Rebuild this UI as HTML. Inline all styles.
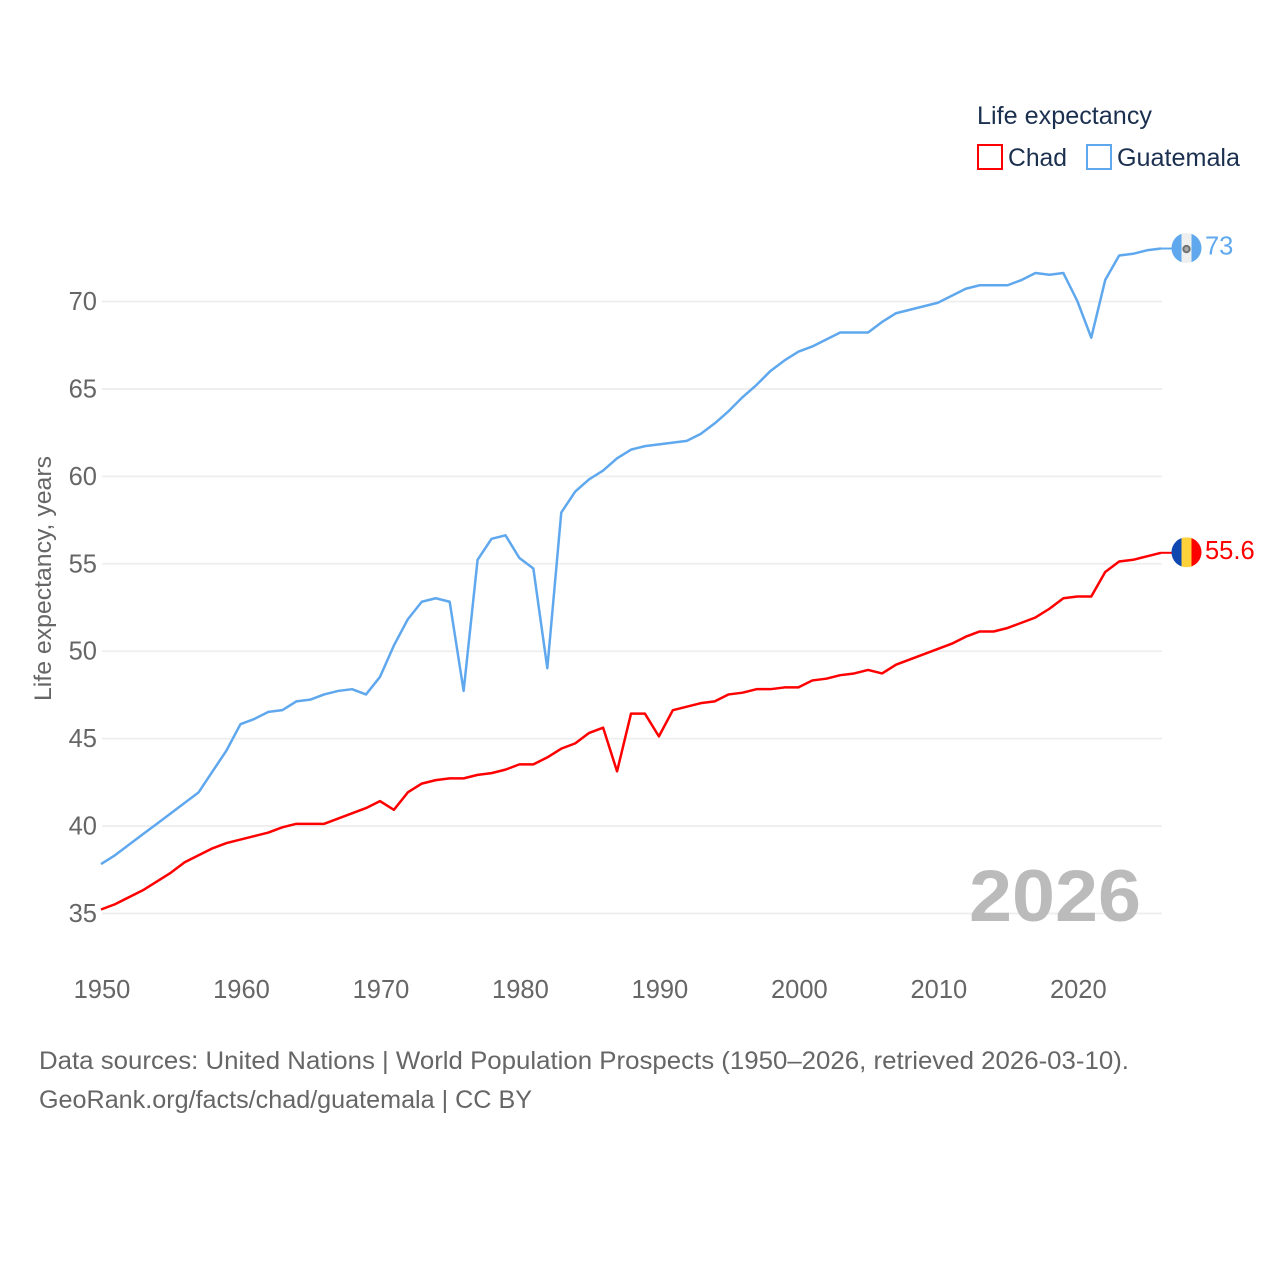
<!DOCTYPE html>
<html lang="en">
<head>
<meta charset="utf-8">
<title>Life expectancy: Chad and Guatemala</title>
<style>
html,body{margin:0;padding:0;background:#fff;}
svg{display:block;font-family:"Liberation Sans",Arial,sans-serif;}
</style>
</head>
<body>
<svg id="chart" xmlns="http://www.w3.org/2000/svg" width="1280" height="1280" viewBox="0 0 1280 1280">
  <defs>
    <clipPath id="clip-gt"><circle id="clip-gt-c" cx="1186.5" cy="248" r="15"/></clipPath>
    <clipPath id="clip-td"><circle id="clip-td-c" cx="1186.5" cy="552" r="15"/></clipPath>
  </defs>
  <rect width="1280" height="1280" fill="#fff"/>
  <g id="grid"></g>
  <g id="yticks"></g>
  <g id="xticks"></g>
  <text transform="translate(51,701) rotate(-90)" font-size="24" fill="#666" textLength="245" lengthAdjust="spacingAndGlyphs">Life expectancy, years</text>
  <text x="1141" y="921" text-anchor="end" font-size="73" font-weight="700" fill="#bbb" textLength="172" lengthAdjust="spacingAndGlyphs">2026</text>
  <g id="series"></g>
  <g id="flags"></g>
  <g>
    <text x="977" y="124" font-size="25" fill="#1b2f4f" textLength="175" lengthAdjust="spacingAndGlyphs">Life expectancy</text>
    <rect x="978" y="145" width="24" height="24" fill="#fff" stroke="#ff0000" stroke-width="2"/>
    <text x="1008" y="166" font-size="25" fill="#1b2f4f" textLength="59" lengthAdjust="spacingAndGlyphs">Chad</text>
    <rect x="1087" y="145" width="24" height="24" fill="#fff" stroke="#5fa8ee" stroke-width="2"/>
    <text x="1117" y="166" font-size="25" fill="#1b2f4f" textLength="123" lengthAdjust="spacingAndGlyphs">Guatemala</text>
  </g>
  <text x="39" y="1069" font-size="25" fill="#666" textLength="1090" lengthAdjust="spacingAndGlyphs">Data sources: United Nations | World Population Prospects (1950–2026, retrieved 2026-03-10).</text>
  <text x="39" y="1108" font-size="25" fill="#666" textLength="493" lengthAdjust="spacingAndGlyphs">GeoRank.org/facts/chad/guatemala | CC BY</text>
</svg>
<script>
const years = [1950,1951,1952,1953,1954,1955,1956,1957,1958,1959,1960,1961,1962,1963,1964,1965,1966,1967,1968,1969,1970,1971,1972,1973,1974,1975,1976,1977,1978,1979,1980,1981,1982,1983,1984,1985,1986,1987,1988,1989,1990,1991,1992,1993,1994,1995,1996,1997,1998,1999,2000,2001,2002,2003,2004,2005,2006,2007,2008,2009,2010,2011,2012,2013,2014,2015,2016,2017,2018,2019,2020,2021,2022,2023,2024,2025,2026];
const chadValues = [35.2,35.5,35.9,36.3,36.8,37.3,37.9,38.3,38.7,39.0,39.2,39.4,39.6,39.9,40.1,40.1,40.1,40.4,40.7,41.0,41.4,40.9,41.9,42.4,42.6,42.7,42.7,42.9,43.0,43.2,43.5,43.5,43.9,44.4,44.7,45.3,45.6,43.1,46.4,46.4,45.1,46.6,46.8,47.0,47.1,47.5,47.6,47.8,47.8,47.9,47.9,48.3,48.4,48.6,48.7,48.9,48.7,49.2,49.5,49.8,50.1,50.4,50.8,51.1,51.1,51.3,51.6,51.9,52.4,53.0,53.1,53.1,54.5,55.1,55.2,55.4,55.6];
const guatemalaValues = [37.8,38.3,38.9,39.5,40.1,40.7,41.3,41.9,43.1,44.3,45.8,46.1,46.5,46.6,47.1,47.2,47.5,47.7,47.8,47.5,48.5,50.3,51.8,52.8,53.0,52.8,47.7,55.2,56.4,56.6,55.3,54.7,49.0,57.9,59.1,59.8,60.3,61.0,61.5,61.7,61.8,61.9,62.0,62.4,63.0,63.7,64.5,65.2,66.0,66.6,67.1,67.4,67.8,68.2,68.2,68.2,68.8,69.3,69.5,69.7,69.9,70.3,70.7,70.9,70.9,70.9,71.2,71.6,71.5,71.6,70.0,67.9,71.2,72.6,72.7,72.9,73.0];
const yTickValues = [35,40,45,50,55,60,65,70];
const xTickValues = [1950,1960,1970,1980,1990,2000,2010,2020];

const NS = 'http://www.w3.org/2000/svg';
const X0 = 101, X1 = 1161, Y35 = 913, Y70 = 301;
function xScale(year){ return X0 + (year - 1950) * (X1 - X0) / 76; }
function yScale(v){ return Y35 - (v - 35) * (Y35 - Y70) / 35; }
function make(tag, attrs, parent){
  const el = document.createElementNS(NS, tag);
  for (const k in attrs) el.setAttribute(k, attrs[k]);
  parent.appendChild(el);
  return el;
}
const grid = document.getElementById('grid');
const yticks = document.getElementById('yticks');
const xticks = document.getElementById('xticks');
const series = document.getElementById('series');
const flags = document.getElementById('flags');

yTickValues.forEach(function(v){
  const line = make('line', {x1:X0 + 1, x2:X1 + 1, y1:yScale(v) + 0.5, y2:yScale(v) + 0.5, stroke:'#eeeeee', 'stroke-width':1.8}, grid);
  
  
  const t = make('text', {x:97, y:yScale(v) + 9, 'text-anchor':'end', 'font-size':25.5, fill:'#666'}, yticks);
  
  
  t.textContent = v;
});
xTickValues.forEach(function(y){
  const t = make('text', {x:xScale(y) + 1, y:998, 'text-anchor':'middle', 'font-size':25.5, fill:'#666'}, xticks);
  
  
  t.textContent = y;
});
function drawLine(values, color, name){
  const d = values.map(function(v, i){ return (i ? 'L' : 'M') + xScale(years[i]).toFixed(2) + ' ' + yScale(v).toFixed(2); }).join(' ');
  const p = make('path', {d:d, fill:'none', stroke:color, 'stroke-width':2.5, 'stroke-linejoin':'round'}, series);
  
  
  const last = values[values.length - 1];
  const c = make('line', {x1:X1, x2:1175, y1:yScale(last), y2:yScale(last), stroke:color, 'stroke-width':2}, series);
  
  
}
drawLine(guatemalaValues, '#5fa8ee', 'line-guatemala');
drawLine(chadValues, '#ff0000', 'line-chad');

function drawFlag(values, clipId, clipCircleId, stripes, color, name){
  const last = values[values.length - 1];
  const cy = yScale(last) - 0.5;
  document.getElementById(clipCircleId).setAttribute('cy', cy);
  const g = make('g', {'clip-path':'url(#' + clipId + ')'}, flags);
  
  
  stripes.forEach(function(col, i){
    make('rect', {x:1171.5 + i * 10, y:cy - 15, width:10.4, height:30, fill:col}, g);
  });
  if (name === 'guatemala') {
    make('circle', {cx:1186.5, cy:cy + 1, r:3.2, fill:'#aaa', stroke:'#707070', 'stroke-width':2}, g);
  }
  const t = make('text', {x:1205, y:cy + 6.5, 'font-size':25.5, fill:color}, flags);
  
  
  t.textContent = last;
}
drawFlag(guatemalaValues, 'clip-gt', 'clip-gt-c', ['#5fa8ee','#efefef','#5fa8ee'], '#5fa8ee', 'guatemala');
drawFlag(chadValues, 'clip-td', 'clip-td-c', ['#0d47b0','#ffd23c','#ff0000'], '#ff0000', 'chad');
</script>
</body>
</html>
